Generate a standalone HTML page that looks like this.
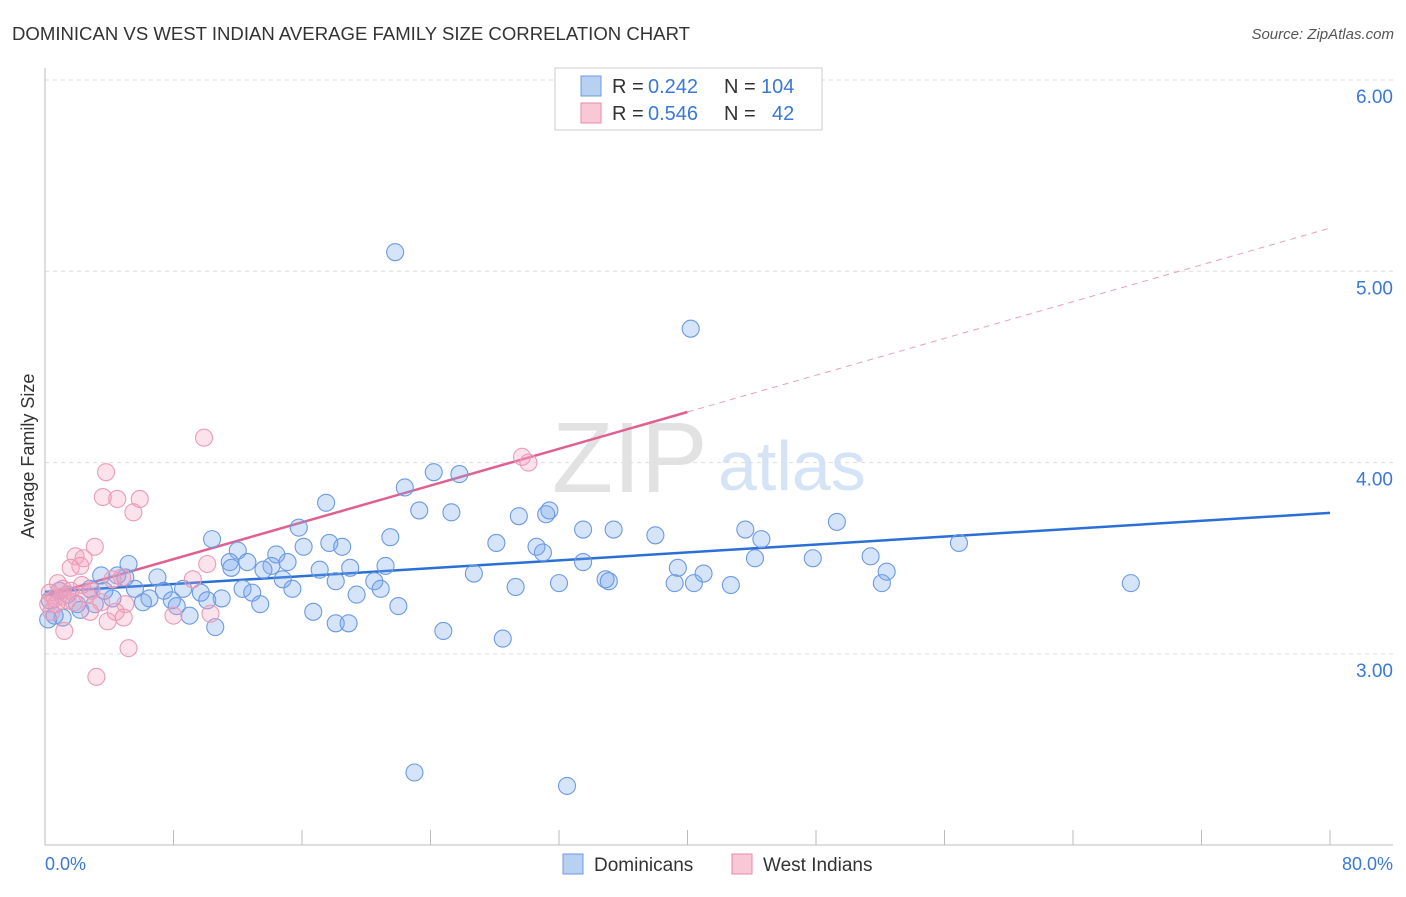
<!DOCTYPE html>
<html><head><meta charset="utf-8"><style>
body{margin:0;background:#fff;font-family:"Liberation Sans",sans-serif;}
svg text{font-family:"Liberation Sans",sans-serif;}
</style></head><body>
<svg id="chart" width="1406" height="892" xmlns="http://www.w3.org/2000/svg">
<text x="12" y="40" font-size="18" fill="#333" textLength="678" lengthAdjust="spacingAndGlyphs">DOMINICAN VS WEST INDIAN AVERAGE FAMILY SIZE CORRELATION CHART</text>
<text x="1394" y="39" font-size="15" fill="#555" text-anchor="end" font-style="italic">Source: ZipAtlas.com</text>
<text x="552" y="492" font-size="100" fill="#e2e2e2" font-family="Liberation Serif, serif">ZIP</text>
<text x="718" y="490" font-size="70" fill="#d5e3f6">atlas</text>
<g id="grid"></g><g id="axes"></g>
<g id="lines"></g><g id="points"></g>
<text transform="translate(34,456) rotate(-90)" font-size="18" fill="#333" text-anchor="middle">Average Family Size</text>
<g>
<rect x="555" y="68" width="267" height="62" fill="#fff" stroke="#ccc"/>
<rect x="581" y="76" width="20" height="20" fill="#b8d0f2" stroke="#6a9be0"/>
<text x="612" y="93" font-size="20" fill="#333">R =</text>
<text x="648" y="93" font-size="20" fill="#3a78d8">0.242</text>
<text x="724" y="93" font-size="20" fill="#333">N =</text>
<text x="761" y="93" font-size="20" fill="#3a78d8">104</text>
<rect x="581" y="103" width="20" height="20" fill="#f8c8d6" stroke="#e98aa8"/>
<text x="612" y="120" font-size="20" fill="#333">R =</text>
<text x="648" y="120" font-size="20" fill="#3a78d8">0.546</text>
<text x="724" y="120" font-size="20" fill="#333">N =</text>
<text x="772" y="120" font-size="20" fill="#3a78d8">42</text>
</g>
<g>
<rect x="563" y="854" width="20" height="20" fill="#b8d0f2" stroke="#6a9be0"/>
<text x="594" y="871" font-size="19" fill="#333">Dominicans</text>
<rect x="732" y="854" width="20" height="20" fill="#f8c8d6" stroke="#e98aa8"/>
<text x="763" y="871" font-size="19" fill="#333">West Indians</text>
</g>
<text x="45" y="870" font-size="18" fill="#3a78d8">0.0%</text>
<text x="1393" y="870" font-size="18" fill="#3a78d8" text-anchor="end">80.0%</text>
</svg>
<script>
const yTicks=[3,4,5,6];
const yTickLabels=["3.00","4.00","5.00","6.00"];
const xTicks=[0,8,16,24,32,40,48,56,64,72,80];
const blueX=[21.8,40.2,23.0,32.5,24.2,25.8,22.4,17.5,23.3,25.3,31.4,29.5,31.2,49.3,15.8,33.5,35.4,38.0,43.6,44.6,10.4,21.5,17.7,16.1,18.5,28.1,30.6,56.9,12.0,14.4,31.0,51.4,47.8,44.2,5.2,11.5,12.6,14.1,15.1,11.6,21.2,33.5,39.4,17.1,19.0,52.4,26.7,41.0,4.5,3.5,7.0,13.6,14.8,20.5,18.1,34.9,39.2,40.4,42.7,35.1,52.1,67.6,32.0,29.3,5.6,2.8,7.4,8.6,9.7,12.3,15.4,19.4,20.9,12.9,11.0,4.2,6.5,7.9,10.1,13.4,6.1,2.0,8.2,22.0,16.7,9.0,0.2,1.1,10.6,18.1,18.9,24.8,28.5,0.6,2.2,3.1,1.4,0.3,0.9,3.7,5.0];
const blueY=[5.10,4.70,2.38,2.31,3.95,3.94,3.87,3.79,3.75,3.74,3.75,3.72,3.73,3.69,3.66,3.65,3.65,3.62,3.65,3.60,3.60,3.61,3.58,3.56,3.56,3.58,3.56,3.58,3.54,3.52,3.53,3.51,3.50,3.50,3.47,3.48,3.48,3.46,3.48,3.45,3.46,3.48,3.45,3.44,3.45,3.43,3.42,3.42,3.41,3.41,3.40,3.44,3.39,3.38,3.38,3.39,3.37,3.37,3.36,3.38,3.37,3.37,3.37,3.35,3.34,3.34,3.33,3.34,3.32,3.34,3.34,3.31,3.34,3.32,3.29,3.29,3.29,3.28,3.28,3.26,3.27,3.26,3.25,3.25,3.22,3.20,3.18,3.19,3.14,3.16,3.16,3.12,3.08,3.20,3.23,3.26,3.31,3.28,3.33,3.33,3.40];
const pinkX=[9.9,3.8,3.6,4.5,5.9,5.5,3.1,1.9,2.4,2.2,1.6,4.8,2.9,0.8,1.1,0.3,0.6,1.4,2.6,3.5,5.0,4.4,3.9,4.9,8.0,10.3,5.2,3.2,1.2,10.1,9.2,29.7,30.1,0.2,0.4,2.8,1.8,4.2,1.1,2.3,0.7,1.6];
const pinkY=[4.13,3.95,3.82,3.81,3.81,3.74,3.56,3.51,3.50,3.46,3.45,3.40,3.33,3.37,3.34,3.32,3.29,3.28,3.31,3.27,3.26,3.22,3.17,3.19,3.20,3.21,3.03,2.88,3.12,3.47,3.39,4.03,4.00,3.26,3.22,3.22,3.27,3.39,3.30,3.36,3.26,3.33];
const blueTrend=[3.324,3.737];
const pinkTrend=[3.303,5.226];
const pinkSolidEnd=40;
const NS="http://www.w3.org/2000/svg";
const X=v=>45+v/80*1285;
const Y=v=>80+(6-v)*191.3;
function mk(tag,attrs,parent){const e=document.createElementNS(NS,tag);for(const k in attrs)e.setAttribute(k,attrs[k]);parent.appendChild(e);return e;}
const grid=document.getElementById('grid'),axes=document.getElementById('axes'),lines=document.getElementById('lines'),pts=document.getElementById('points');
yTicks.forEach((t,i)=>{
 const l=mk('line',{x1:45,x2:1393,y1:Y(t),y2:Y(t),stroke:'#ddd','stroke-dasharray':'4,4'},grid);
 
 
 const tx=mk('text',{x:1393,y:Y(t)+23,'font-size':19,fill:'#3a78d8','text-anchor':'end'},grid);
 tx.textContent=yTickLabels[i];
 
 
});
const ya=mk('line',{x1:45,x2:45,y1:68,y2:845,stroke:'#bbb'},axes);


const xa=mk('line',{x1:45,x2:1393,y1:845,y2:845,stroke:'#bbb'},axes);


xTicks.forEach(t=>{
 const l=mk('line',{x1:X(t),x2:X(t),y1:830,y2:845,stroke:'#bbb'},axes);
 
 
});
function ty(tr,x){return tr[0]+(tr[1]-tr[0])*x/80;}
const bl=mk('line',{x1:X(0),y1:Y(ty(blueTrend,0)),x2:X(80),y2:Y(ty(blueTrend,80)),stroke:'#2a6fd6','stroke-width':2.5},lines);


const pl=mk('line',{x1:X(0),y1:Y(ty(pinkTrend,0)),x2:X(pinkSolidEnd),y2:Y(ty(pinkTrend,pinkSolidEnd)),stroke:'#e06090','stroke-width':2.5},lines);


const pd=mk('line',{x1:X(pinkSolidEnd),y1:Y(ty(pinkTrend,pinkSolidEnd)),x2:X(80),y2:Y(ty(pinkTrend,80)),stroke:'#e8a0b8','stroke-width':1,'stroke-dasharray':'6,5'},lines);


blueX.forEach((x,i)=>{
 const c=mk('circle',{cx:X(x),cy:Y(blueY[i]),r:8.5,fill:'rgba(120,165,235,0.3)',stroke:'#6b9be3','stroke-width':1.1},pts);
 
 
});
pinkX.forEach((x,i)=>{
 const c=mk('circle',{cx:X(x),cy:Y(pinkY[i]),r:8.5,fill:'rgba(245,160,190,0.3)',stroke:'#eb9bb6','stroke-width':1.1},pts);
 
 
});
</script>
</body></html>
